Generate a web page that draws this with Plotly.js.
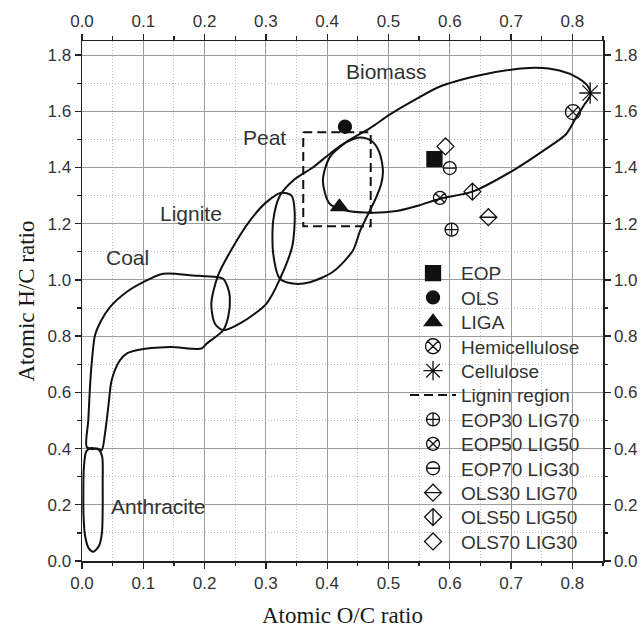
<!DOCTYPE html>
<html>
<head>
<meta charset="utf-8">
<script src="https://cdn.plot.ly/plotly-3.0.1.min.js"></script>
<style>
  html, body { margin: 0; padding: 0; background: #fff; }
  #chart { width: 644px; height: 628px; }
</style>
</head>
<body>
<div id="chart"></div>
<script>
// ---- Sample compositions (atomic O/C, atomic H/C) ----
const eopOC = [0.575],  eopHC = [1.43];
const olsOC = [0.429],  olsHC = [1.545];
const ligaOC = [0.42],  ligaHC = [1.26];
const hemiOC = [0.801], hemiHC = [1.597];
const celluOC = [0.829], celluHC = [1.665];
const eop30OC = [0.603], eop30HC = [1.179];
const eop50OC = [0.584], eop50HC = [1.292];
const eop70OC = [0.600], eop70HC = [1.398];
const ols30OC = [0.663], ols30HC = [1.223];
const ols50OC = [0.637], ols50HC = [1.314];
const ols70OC = [0.593], ols70HC = [1.475];

// ---- Lignin region (dashed box) ----
const ligninOC = [0.361, 0.471, 0.471, 0.361, 0.361];
const ligninHC = [1.525, 1.525, 1.191, 1.191, 1.525];

// ---- Fuel regions of the van Krevelen diagram (outline points) ----
const biomassOC = [0.393, 0.404, 0.431, 0.47, 0.502, 0.545, 0.584, 0.649, 0.70, 0.741, 0.779, 0.808, 0.825, 0.83, 0.82, 0.806, 0.79, 0.757, 0.703, 0.637, 0.584, 0.545, 0.513, 0.475, 0.431, 0.404, 0.393];
const biomassHC = [1.353, 1.436, 1.490, 1.54, 1.588, 1.643, 1.688, 1.728, 1.748, 1.755, 1.745, 1.72, 1.69, 1.66, 1.625, 1.578, 1.519, 1.466, 1.389, 1.314, 1.289, 1.262, 1.245, 1.239, 1.247, 1.271, 1.353];

const peatOC = [0.344, 0.323, 0.312, 0.312, 0.323, 0.345, 0.377, 0.405, 0.431, 0.454, 0.472, 0.485, 0.491, 0.488, 0.480, 0.454, 0.442, 0.41, 0.372, 0.344];
const peatHC = [0.987, 1.004, 1.093, 1.211, 1.300, 1.355, 1.401, 1.45, 1.490, 1.507, 1.495, 1.455, 1.389, 1.34, 1.294, 1.176, 1.105, 1.03, 0.992, 0.987];

const ligniteOC = [0.230, 0.217, 0.211, 0.222, 0.247, 0.274, 0.30, 0.325, 0.342, 0.347, 0.343, 0.323, 0.301, 0.26, 0.230];
const ligniteHC = [0.821, 0.844, 0.915, 1.016, 1.12, 1.211, 1.275, 1.31, 1.30, 1.24, 1.12, 1.004, 0.916, 0.848, 0.821];

const coalOC = [0.0076, 0.0103, 0.013, 0.0165, 0.0212, 0.030, 0.0456, 0.0728, 0.0999, 0.1325, 0.1814, 0.2195, 0.2303, 0.2375, 0.2412, 0.2385, 0.2303, 0.2032, 0.195, 0.1434, 0.0892, 0.0728, 0.0619, 0.0484, 0.0429, 0.0375, 0.0321, 0.025, 0.0165, 0.0076];
const coalHC = [0.406, 0.501, 0.619, 0.72, 0.803, 0.85, 0.903, 0.957, 0.992, 1.022, 1.016, 1.010, 1.004, 0.975, 0.939, 0.868, 0.821, 0.773, 0.756, 0.761, 0.750, 0.738, 0.714, 0.643, 0.548, 0.454, 0.394, 0.40, 0.398, 0.406];

const anthraciteOC = [0.0185, 0.028, 0.0325, 0.0337, 0.0337, 0.033, 0.028, 0.022, 0.015, 0.007, 0.003, 0.0022, 0.0025, 0.005, 0.011, 0.0185];
const anthraciteHC = [0.033, 0.055, 0.10, 0.18, 0.28, 0.37, 0.395, 0.40, 0.402, 0.39, 0.33, 0.25, 0.16, 0.09, 0.045, 0.033];

// ---- Region labels ----
const regionLabels = ['Biomass', 'Peat', 'Lignite', 'Coal', 'Anthracite'];
const regionLabelOC = [0.497, 0.298, 0.178, 0.075, 0.125];
const regionLabelHC = [1.742, 1.507, 1.236, 1.079, 0.195];

// ---- Axis ticks ----
const ocTicks = [0.0, 0.1, 0.2, 0.3, 0.4, 0.5, 0.6, 0.7, 0.8];
const hcTicks = [0.0, 0.2, 0.4, 0.6, 0.8, 1.0, 1.2, 1.4, 1.6, 1.8];

const ink = '#111111';
const sans = 'Liberation Sans, Arial, sans-serif';
const serif = 'Liberation Serif, Times New Roman, serif';
const legendRowPitch = 24.4;

function outline(xs, ys) {
  return {
    x: xs, y: ys, mode: 'lines', showlegend: false, hoverinfo: 'skip',
    line: { color: ink, width: 2, shape: 'spline', smoothing: 0.8 }
  };
}

function sample(name, xs, ys, symbol, size, uid) {
  return {
    name: name, uid: uid, x: xs, y: ys, mode: 'markers',
    marker: { symbol: symbol, size: size, color: ink, line: { color: ink, width: 1.3 } }
  };
}

const data = [
  outline(biomassOC, biomassHC),
  outline(peatOC, peatHC),
  outline(ligniteOC, ligniteHC),
  outline(coalOC, coalHC),
  outline(anthraciteOC, anthraciteHC),
  sample('EOP', eopOC, eopHC, 'square', 15, 'eop'),
  sample('OLS', olsOC, olsHC, 'circle', 13, 'ols'),
  sample('LIGA', ligaOC, ligaHC, 'triangle-up', 15, 'liga'),
  sample('Hemicellulose', hemiOC, hemiHC, 'circle-x-open', 15, 'hemi'),
  sample('Cellulose', celluOC, celluHC, 'asterisk-open', 18, 'cellu'),
  {
    name: 'Lignin region', x: ligninOC, y: ligninHC, mode: 'lines',
    line: { color: ink, width: 2, dash: '9px,5px' }
  },
  sample('EOP30 LIG70', eop30OC, eop30HC, 'circle-cross-open', 13, 'eop30'),
  sample('EOP50 LIG50', eop50OC, eop50HC, 'circle-x-open', 13, 'eop50'),
  sample('EOP70 LIG30', eop70OC, eop70HC, 'circle-open', 13, 'eop70'),
  sample('OLS30 LIG70', ols30OC, ols30HC, 'diamond-open', 13, 'ols30'),
  sample('OLS50 LIG50', ols50OC, ols50HC, 'diamond-open', 13, 'ols50'),
  sample('OLS70 LIG30', ols70OC, ols70HC, 'diamond-open', 13, 'ols70'),
  // carries the mirrored top/right axes
  {
    x: [ocTicks[0]], y: [hcTicks[0]], xaxis: 'x2', yaxis: 'y2', mode: 'markers',
    marker: { opacity: 0 }, showlegend: false, hoverinfo: 'skip'
  }
];

// symbols with a bar through them: horizontal ('h') or vertical ('v')
const barred = { 'EOP70 LIG30': 'h', 'OLS30 LIG70': 'h', 'OLS50 LIG50': 'v' };
const barredUid = { eop70: 'h', ols30: 'h', ols50: 'v' };

const tickFont = { family: sans, size: 17, color: '#333' };
const axisCommon = {
  ticks: 'outside', ticklen: 6, tickwidth: 1.3, tickcolor: '#222',
  showline: true, linecolor: '#222', linewidth: 1.5,
  zeroline: false, tickfont: tickFont, tickformat: '.1f'
};

const layout = {
  width: 644, height: 628,
  margin: { l: 82, r: 41, t: 41, b: 67 },
  paper_bgcolor: '#fff', plot_bgcolor: '#fff',
  showlegend: true,
  xaxis: Object.assign({}, axisCommon, {
    range: [0, 0.85], tickvals: ocTicks,
    showgrid: true, gridcolor: '#9c9c9c', gridwidth: 1,
    minor: { dtick: 0.05, tick0: 0, ticks: 'outside', ticklen: 3.5, tickcolor: '#222',
             showgrid: true, gridcolor: '#bdbdbd', gridwidth: 1, griddash: '1px,2px' },
    title: { text: 'Atomic O/C ratio', font: { family: serif, size: 23, color: '#1a1a1a' }, standoff: 17 }
  }),
  yaxis: Object.assign({}, axisCommon, {
    range: [0, 1.85], tickvals: hcTicks,
    showgrid: true, gridcolor: '#9c9c9c', gridwidth: 1,
    minor: { dtick: 0.1, tick0: 0, ticks: 'outside', ticklen: 3.5, tickcolor: '#222',
             showgrid: true, gridcolor: '#bdbdbd', gridwidth: 1, griddash: '1px,2px' },
    title: { text: 'Atomic H/C ratio', font: { family: serif, size: 23, color: '#1a1a1a' }, standoff: 6 }
  }),
  xaxis2: Object.assign({}, axisCommon, {
    overlaying: 'x', side: 'top', anchor: 'y2',
    range: [0, 0.85], tickvals: ocTicks, showgrid: false,
    minor: { dtick: 0.05, tick0: 0, ticks: 'outside', ticklen: 3.5, tickcolor: '#222', showgrid: false }
  }),
  yaxis2: Object.assign({}, axisCommon, {
    overlaying: 'y', side: 'right', anchor: 'x2',
    range: [0, 1.85], tickvals: hcTicks, showgrid: false,
    minor: { dtick: 0.1, tick0: 0, ticks: 'outside', ticklen: 3.5, tickcolor: '#222', showgrid: false }
  }),
  legend: {
    x: 0.62, xanchor: 'left', y: 0.59, yanchor: 'top',
    bgcolor: 'rgba(0,0,0,0)', borderwidth: 0,
    font: { family: sans, size: 19, color: '#333' },
    itemwidth: 46, tracegroupgap: 0
  },
  annotations: regionLabels.map((t, i) => ({
    x: regionLabelOC[i], y: regionLabelHC[i], xref: 'x', yref: 'y',
    text: t, showarrow: false, xanchor: 'center', yanchor: 'middle',
    font: { family: sans, size: 21, color: '#333' }
  }))
};

// draw a bar across an already rendered marker path
function addBar(path, dir) {
  const bb = path.getBBox();
  const cx = bb.x + bb.width / 2, cy = bb.y + bb.height / 2;
  const rx = bb.width / 2, ry = bb.height / 2;
  const extra = dir === 'h'
    ? ' M' + (cx - rx) + ',' + cy + 'H' + (cx + rx)
    : ' M' + cx + ',' + (cy - ry) + 'V' + (cy + ry);
  path.setAttribute('d', path.getAttribute('d') + extra);
}

// tighten the legend rows to a fixed pitch
function tightenLegend() {
  const items = Array.from(gd.querySelectorAll('.legend g.traces'));
  if (!items.length) return;
  const top0 = items[0].getBoundingClientRect().top;
  items.forEach((g, i) => {
    const dy = top0 + i * legendRowPitch - g.getBoundingClientRect().top;
    g.setAttribute('transform', 'translate(0,' + dy + ') ' + (g.getAttribute('transform') || ''));
  });
}

const gd = document.getElementById('chart');
Plotly.newPlot(gd, data, layout, { displayModeBar: false, staticPlot: true }).then(() => {
  Object.keys(barredUid).forEach(uid => {
    gd.querySelectorAll('.trace' + uid + ' path.point').forEach(p => addBar(p, barredUid[uid]));
  });
  gd.querySelectorAll('.legend g.traces').forEach(g => {
    const t = g.querySelector('text.legendtext');
    if (!t) return;
    const dir = barred[t.textContent];
    if (!dir) return;
    g.querySelectorAll('.legendpoints path.scatterpts').forEach(p => addBar(p, dir));
  });
  tightenLegend();
});
</script>
</body>
</html>
